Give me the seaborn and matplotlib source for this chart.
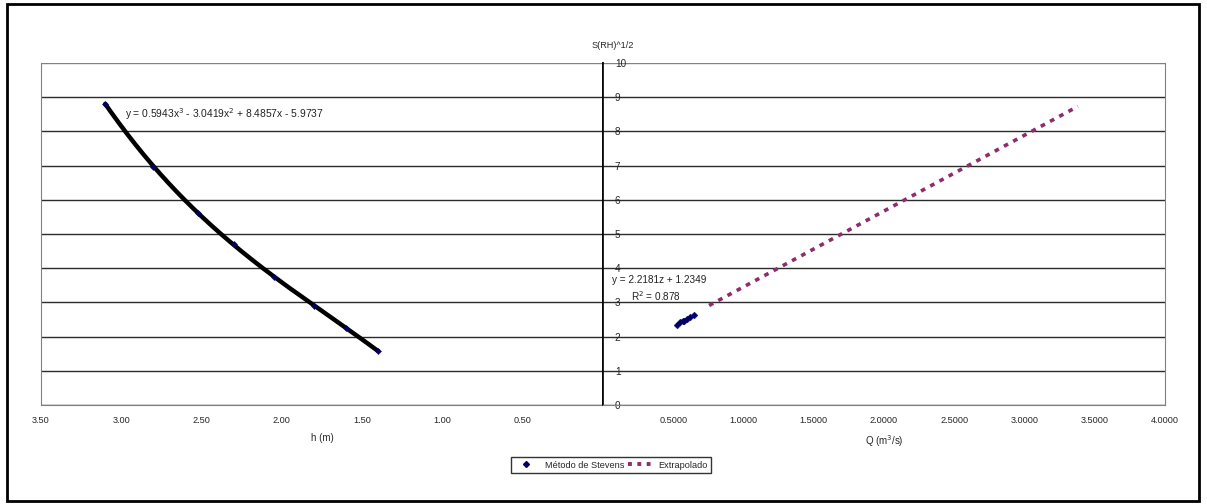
import numpy as np
import matplotlib
matplotlib.use("Agg")
import matplotlib.pyplot as plt
from matplotlib.lines import Line2D
from matplotlib.patches import Rectangle
import seaborn as sns

# Stevens method: S(RH)^1/2 against stage h (m)
h_stevens = [3.10, 2.80, 2.52, 2.30, 2.05, 1.80, 1.60, 1.40]
s_stevens_h = [8.80, 6.95, 5.60, 4.70, 3.75, 2.90, 2.25, 1.58]
# cubic trend of S vs h (highest power first)
poly_h = [0.5943, -3.0419, 8.4857, -5.9737]

# Stevens method: S(RH)^1/2 against discharge Q (m3/s)
q_stevens = [0.53, 0.55, 0.57, 0.58, 0.60, 0.62, 0.65]
s_stevens_q = [2.35, 2.42, 2.47, 2.45, 2.52, 2.56, 2.62]
# linear trend of S vs Q, and its extrapolated stretch
lin_slope, lin_icept, lin_r2 = 2.2181, 1.2349, 0.878
q_extrap = [0.755, 3.38]

h_ticks = [3.5, 3.0, 2.5, 2.0, 1.5, 1.0, 0.5]
q_ticks = [0.5, 1.0, 1.5, 2.0, 2.5, 3.0, 3.5, 4.0]
s_ticks = list(range(0, 11))

sns.set_style("white")
plt.rcParams["font.family"] = ["Liberation Sans", "DejaVu Sans"]

FS = 6.6
GRID = "#2b2b2b"
FRAME = "#808080"
NAVY = "#000066"
PLUM = "#8e2d6e"

fig = plt.figure(figsize=(12.07, 5.04), dpi=100)
y0, hgt = 1 - 405 / 504, (405 - 63) / 504
axL = fig.add_axes([41 / 1207, y0, (603 - 41) / 1207, hgt])
axR = fig.add_axes([603 / 1207, y0, (1165 - 603) / 1207, hgt])

for ax in (axL, axR):
    ax.set_ylim(0, 10)
    ax.set_yticks(s_ticks)
    for v in s_ticks:
        ax.axhline(v, color=GRID if v < 10 else FRAME, lw=1.0, zorder=0)
    ax.spines["top"].set_visible(False)
    ax.spines["bottom"].set_color(FRAME)
    ax.tick_params(axis="x", direction="inout", length=4, width=0.8,
                   color=FRAME, labelsize=FS, pad=6)

# left panel: stage axis runs from 3.5 down to 0
axL.set_xlim(3.5, 0)
axL.set_xticks(h_ticks)
axL.set_xticklabels([f"{v:.2f}" for v in h_ticks])
axL.spines["left"].set_color(FRAME)
axL.spines["right"].set_color("black")
axL.spines["right"].set_linewidth(1.2)
axL.tick_params(axis="y", left=False, right=False, labelleft=False)

h_fit = np.linspace(min(h_stevens), max(h_stevens), 200)
s_fit = np.polyval(poly_h, h_fit)
sns.lineplot(x=h_fit, y=s_fit, ax=axL, color="black", lw=3.2, sort=False,
             legend=False, zorder=3)
sns.scatterplot(x=h_stevens, y=s_stevens_h, ax=axL, marker="D", s=10,
                color=NAVY, edgecolor=NAVY, legend=False, zorder=4)
axL.set_xlabel("h (m)", fontsize=FS + 0.4, labelpad=6)
axL.set_ylabel("")
axL.text(2.976, 8.5,
         "y = 0.5943x$^{3}$ - 3.0419x$^{2}$ + 8.4857x - 5.9737",
         fontsize=FS + 0.8, va="center", ha="left", color="#222222")

# right panel: discharge axis
axR.set_xlim(0, 4)
axR.set_xticks(q_ticks)
axR.set_xticklabels([f"{v:.4f}" for v in q_ticks])
axR.spines["left"].set_color("black")
axR.spines["left"].set_linewidth(1.2)
axR.spines["right"].set_color(FRAME)
axR.tick_params(axis="y", direction="inout", length=5, width=0.9,
                color="black", labelsize=FS + 0.6, pad=-11)
for lab in axR.get_yticklabels():
    lab.set_ha("left")

s_extrap = [lin_slope * q + lin_icept for q in q_extrap]
sns.lineplot(x=q_extrap, y=s_extrap, ax=axR, color=PLUM, lw=2.6,
             linestyle=(0, (1.3, 1.6)), legend=False, zorder=3)
sns.scatterplot(x=q_stevens, y=s_stevens_q, ax=axR, marker="D", s=12,
                color=NAVY, edgecolor=NAVY, legend=False, zorder=4)
sns.lineplot(x=q_stevens, y=s_stevens_q, ax=axR, color=NAVY, lw=2.2,
             legend=False, zorder=4)
axR.set_xlabel("Q (m$^{3}$/s)", fontsize=FS + 0.4, labelpad=6)
axR.set_ylabel("")
axR.text(0.064, 3.65, f"y = {lin_slope}z + {lin_icept}",
         fontsize=FS + 0.6, va="center", ha="left", color="#222222")
axR.text(0.2, 3.19, f"R$^{{2}}$ = {lin_r2}",
         fontsize=FS + 0.6, va="center", ha="left", color="#222222")

fig.text(613 / 1207, 1 - 45 / 504, "S(RH)^1/2", fontsize=FS, ha="center",
         va="center")

handles = [
    Line2D([], [], marker="D", markersize=3, color=NAVY, linestyle="none"),
    Line2D([], [], color=PLUM, linestyle=(0, (1.0, 1.4)), lw=2.8,
           dash_capstyle="butt"),
]
leg = fig.legend(handles, ["Método de Stevens", "Extrapolado"], ncol=2,
                 loc="center", bbox_to_anchor=(611 / 1207, 1 - 465 / 504),
                 fontsize=FS, frameon=True, fancybox=False, handlelength=2.5,
                 handletextpad=0.8, columnspacing=0.4, borderpad=0.35)
leg.get_frame().set_edgecolor("black")
leg.get_frame().set_linewidth(1.0)

fig.patches.append(Rectangle((7 / 1207, 3 / 504), 1192 / 1207, 497 / 504,
                             transform=fig.transFigure, fill=False,
                             edgecolor="black", lw=2.0))

fig.savefig("out.png", dpi=100, facecolor="white")
